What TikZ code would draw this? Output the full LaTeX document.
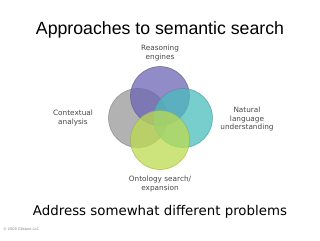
\documentclass[tikz,border=0pt]{standalone}
\usepackage{fontspec}
\setmainfont{DejaVu Sans}
\newfontfamily\titlefont{Liberation Sans}
\definecolor{vnpurple}{RGB}{108,101,181}
\definecolor{vngray}{RGB}{152,152,152}
\definecolor{vnteal}{RGB}{75,188,188}
\definecolor{vnlime}{RGB}{188,219,81}
\definecolor{vntext}{RGB}{70,70,70}

\begin{document}
\begin{tikzpicture}[x=0.25mm,y=-0.25mm,line width=0.5pt]
  \tikzset{
    venn/.style={fill=#1,fill opacity=0.75,draw=#1!80!black,draw opacity=0.6},
    lbl/.style={align=center,font=\fontsize{5.2}{6}\selectfont,text=vntext,inner sep=0pt}
  }
  \useasboundingbox (0,0) rectangle (320,240);
  \coordinate (G) at (138,118);
  \coordinate (P) at (160,96);
  \coordinate (T) at (183,118);
  \coordinate (L) at (160,140);
  \draw[venn=vngray] (G) circle (29.5);
  \draw[venn=vnpurple] (P) circle (29.5);
  \draw[venn=vnteal] (T) circle (29.5);
  \draw[venn=vnlime] (L) circle (29.5);
  \node (title) at (160,30) {\titlefont\fontsize{12.6}{14}\selectfont Approaches to semantic search};
  \node[lbl] (reason) at (160,53) {Reasoning\\engines};
  \node[lbl] (context) at (73,118) {Contextual\\analysis};
  \node[lbl] (natural) at (247,119) {Natural\\language\\understanding};
  \node[lbl] (onto) at (160,184) {Ontology search/\\expansion};
  \node (address) at (160,212) {\fontsize{9.5}{11}\selectfont Address somewhat different problems};
  \node[anchor=west,inner sep=0pt,font=\fontsize{2.5}{3}\selectfont,text=gray] (copy) at (3,229) {© 2009 Gilbane LLC};
\end{tikzpicture}
\end{document}
